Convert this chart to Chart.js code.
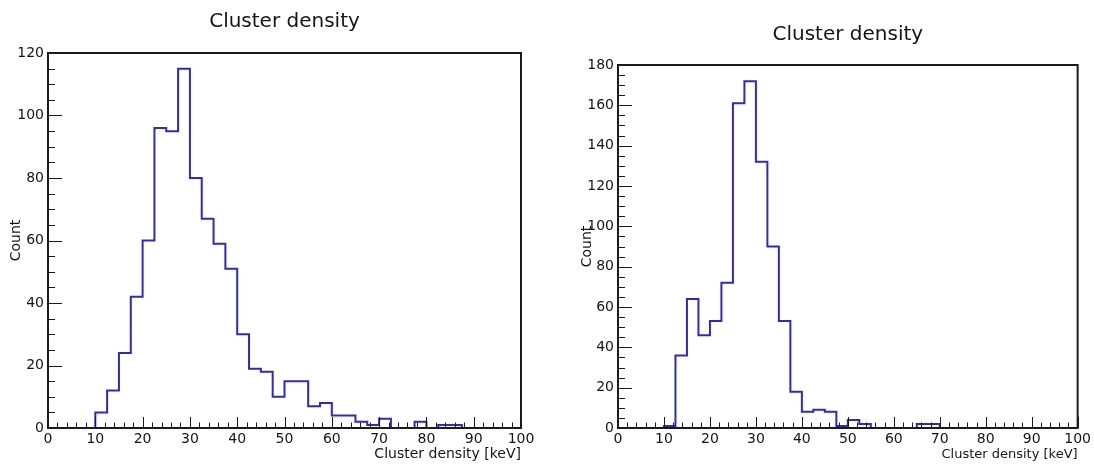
<!DOCTYPE html>
<html><head><meta charset="utf-8">
<script src="https://cdn.jsdelivr.net/npm/chart.js@4.4.0/dist/chart.umd.min.js"></script>
<style>
html,body{margin:0;padding:0;background:#fff;overflow:hidden;width:1094px;height:465px}
canvas{position:absolute;top:0}
#c1{left:0} #c2{left:547px}
</style></head><body>
<canvas id="c1" width="547" height="465"></canvas>
<canvas id="c2" width="547" height="465"></canvas>
<script>
// Histogram bin edges (keV)
const binEdges = [0,2.5,5,7.5,10,12.5,15,17.5,20,22.5,25,27.5,30,32.5,35,37.5,40,42.5,45,47.5,50,52.5,55,57.5,60,62.5,65,67.5,70,72.5,75,77.5,80,82.5,85,87.5,90,92.5,95,97.5,100];
// Bin contents, left histogram
const countsLeft = [0,0,0,0, 5,12,24,42,60, 96,95,115,80,67, 59,51,30,19,18, 10,15,15,7,8, 4,4,2,1,3, 0,0,2,0,1, 1,0,0,0,0,0];
// Bin contents, right histogram
const countsRight = [0,0,0,0, 1,36,64,46,53, 72,161,172,132,90, 53,18,8,9,8, 1,4,2,0,0, 0,0,2,2, 0,0,0,0,0,0,0,0,0,0,0,0];
// Axis ticks
const xTicks = [0,10,20,30,40,50,60,70,80,90,100];
const yTicksLeft = [0,20,40,60,80,100,120];
const yTicksRight = [0,20,40,60,80,100,120,140,160,180];
const titleText = 'Cluster density';
const xTitleText = 'Cluster density [keV]';
const yTitleText = 'Count';

const FONT = 'DejaVu Sans';
const TXT = '#151515';

const frameTicks = {
  id: 'frameTicks',
  afterDatasetsDraw(chart, args, o) {
    const {ctx, chartArea: a, scales: {x, y}} = chart;
    ctx.save();
    ctx.strokeStyle = '#1a1a1a';
    ctx.lineWidth = 1;
    ctx.beginPath();
    const nx = Math.round((x.max - x.min) / o.xMinor);
    for (let i = 0; i <= nx; i++) {
      const v = x.min + i * o.xMinor;
      const px = Math.round(x.getPixelForValue(v)) + 0.5;
      const major = Math.abs(v / o.xMajor - Math.round(v / o.xMajor)) < 1e-6;
      const len = major ? o.xLen : o.xLen / 2;
      ctx.moveTo(px, a.bottom); ctx.lineTo(px, a.bottom - len);
    }
    const ny = Math.round((y.max - y.min) / o.yMinor);
    for (let i = 0; i <= ny; i++) {
      const v = y.min + i * o.yMinor;
      const py = Math.round(y.getPixelForValue(v)) + 0.5;
      const major = Math.abs(v / o.yMajor - Math.round(v / o.yMajor)) < 1e-6;
      const len = major ? o.yLen : o.yLen / 2;
      ctx.moveTo(a.left, py); ctx.lineTo(a.left + len, py);
    }
    ctx.stroke();
    ctx.lineWidth = 2;
    ctx.strokeRect(a.left, a.top, a.right - a.left, a.bottom - a.top);
    ctx.restore();
  }
};

function makeChart(id, counts, yTicks, g) {
  const pts = binEdges.map((e, i) => ({x: e, y: i < counts.length ? counts[i] : counts[counts.length - 1]}));
  return new Chart(document.getElementById(id), {
    type: 'line',
    data: { datasets: [{ data: pts, stepped: true, borderColor: '#2a2ac8', borderWidth: 2, pointRadius: 0, fill: false, tension: 0 }] },
    options: {
      responsive: false, animation: false, devicePixelRatio: 1,
      layout: { padding: { left: 0, right: g.padRight, top: 0, bottom: 0 } },
      plugins: {
        legend: { display: false }, tooltip: { enabled: false },
        title: { display: true, text: titleText, fullSize: false, color: TXT,
                 font: { family: FONT, size: 20, weight: 'normal' },
                 padding: { top: g.titleTop, bottom: g.titleBottom } },
        frameTicks: { xMinor: 2, xMajor: 10, xLen: g.xLen, yMinor: 5, yMajor: 20, yLen: g.yLen }
      },
      scales: {
        x: { type: 'linear', min: 0, max: 100,
             afterBuildTicks: s => { s.ticks = xTicks.map(v => ({value: v})); },
             afterFit: s => { s.height = 37; },
             grid: { display: false, drawTicks: false }, border: { display: false },
             ticks: { autoSkip: false, maxRotation: 0, padding: 3, color: TXT, font: { family: FONT, size: 14 } },
             title: { display: true, text: xTitleText, align: 'end', color: TXT,
                      font: { family: FONT, size: g.xTitleSize }, padding: { top: 0, bottom: g.xTitlePad } } },
        y: { type: 'linear', min: 0, max: yTicks[yTicks.length - 1],
             afterBuildTicks: s => { s.ticks = yTicks.map(v => ({value: v})); },
             afterFit: s => { s.width = g.yWidth; },
             grid: { display: false, drawTicks: false }, border: { display: false },
             ticks: { autoSkip: false, padding: 4, color: TXT, font: { family: FONT, size: 14 } },
             title: { display: true, text: yTitleText, color: TXT,
                      font: { family: FONT, size: 14 }, padding: { top: g.yTitlePad, bottom: 0 } } }
      }
    },
    plugins: [frameTicks]
  });
}

makeChart('c1', countsLeft, yTicksLeft, { yWidth: 48, padRight: 26, titleTop: 10, titleBottom: 19, yTitlePad: 7.6, xTitleSize: 14, xTitlePad: 2.6, xLen: 11, yLen: 14 });
makeChart('c2', countsRight, yTicksRight, { yWidth: 71, padRight: 16, titleTop: 23, titleBottom: 18, yTitlePad: 31.6, xTitleSize: 13, xTitlePad: 2.6, xLen: 11, yLen: 14 });
</script>
</body></html>
